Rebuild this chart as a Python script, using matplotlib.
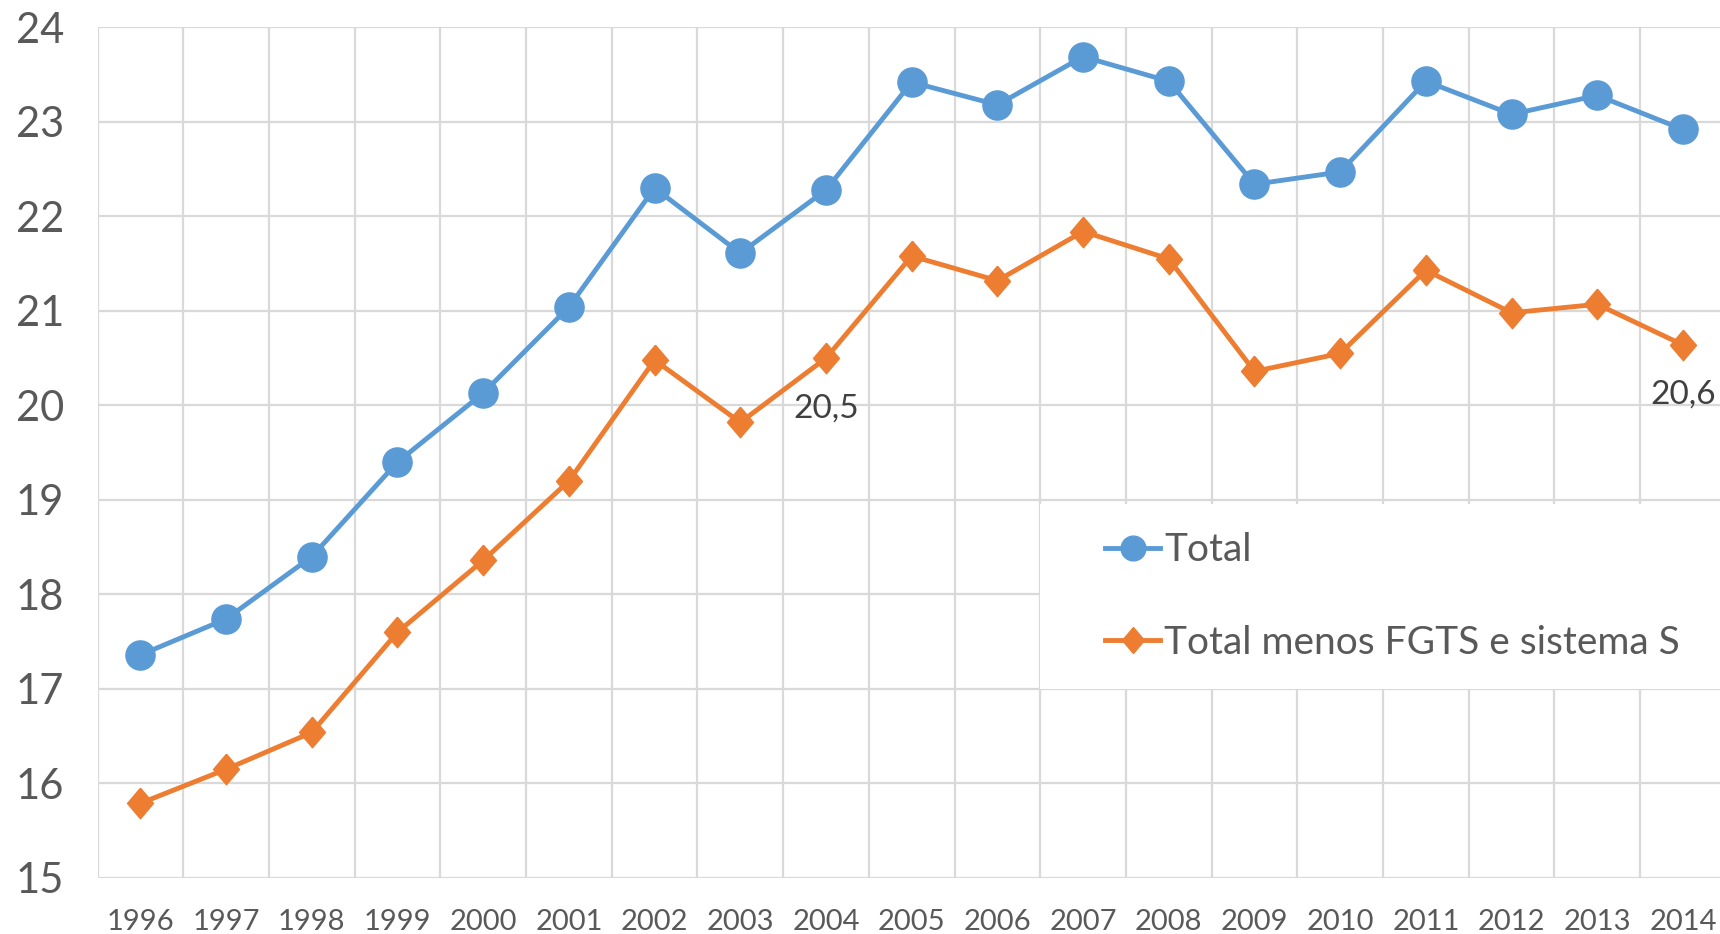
import numpy as np
import matplotlib
matplotlib.use("Agg")
import matplotlib.pyplot as plt
from matplotlib.patches import Rectangle

plt.rcParams['font.family'] = ['Lato', 'DejaVu Sans']

# Data
years = ['1996', '1997', '1998', '1999', '2000', '2001', '2002', '2003', '2004', '2005',
         '2006', '2007', '2008', '2009', '2010', '2011', '2012', '2013', '2014']
total = [17.36, 17.74, 18.40, 19.40, 20.13, 21.04, 22.30, 21.61, 22.28, 23.42,
         23.18, 23.69, 23.43, 22.34, 22.47, 23.43, 23.08, 23.28, 22.92]
total_menos = [15.79, 16.15, 16.54, 17.60, 18.36, 19.20, 20.48, 19.82, 20.50, 21.58,
               21.32, 21.84, 21.55, 20.36, 20.55, 21.43, 20.98, 21.07, 20.64]
labels = ['Total', 'Total menos FGTS e sistema S']
# annotated points: (index, text, y position of label)
notes = [(8, '20,5', 19.97), (18, '20,6', 20.11)]

blue = '#5B9BD5'
orange = '#ED7D31'
grid_c = '#D9D9D9'

fig = plt.figure(figsize=(17.2, 9.34), dpi=100)
ax = fig.add_axes([0.0567, 0.0600, 0.9467, 0.9107])

x = np.arange(len(years))
diamond = [(0, 1), (0.85, 0), (0, -1), (-0.85, 0), (0, 1)]

ax.plot(x, total, color=blue, linewidth=3.5, marker='o', markersize=21,
        label=labels[0], zorder=4)
ax.plot(x, total_menos, color=orange, linewidth=3.5, marker=diamond, markersize=22,
        label=labels[1], zorder=4)

for i, txt, ypos in notes:
    ax.text(i, ypos, txt, ha='center', va='center', fontsize=24, color='#404040', zorder=5)

# axes and grid
ax.set_xlim(-0.5, 18.5)
ax.set_ylim(15, 24)
ax.set_yticks(range(15, 25))
ax.set_xticks(x)
ax.set_xticklabels(years)
ax.set_xticks(np.arange(-0.5, 19, 1), minor=True)
ax.grid(which='major', axis='y', color=grid_c, linewidth=1.6, zorder=0)
ax.grid(which='minor', axis='x', color=grid_c, linewidth=1.6, zorder=0)
ax.set_axisbelow(True)
for s in ax.spines.values():
    s.set_visible(False)
ax.tick_params(axis='both', which='both', length=0)
ax.tick_params(axis='y', labelsize=30, labelcolor='#595959', pad=24)
ax.tick_params(axis='x', labelsize=21, labelcolor='#595959', pad=22)

# white legend area over the grid
ax.add_patch(Rectangle((0.579, 0.2222), 0.43, 0.217, transform=ax.transAxes,
                       facecolor='white', edgecolor='none', zorder=2, clip_on=False))
leg = ax.legend(loc='center left', bbox_to_anchor=(0.5975, 0.331), frameon=False,
                fontsize=28, handlelength=1.41, handletextpad=0.1, labelspacing=1.45,
                labelcolor='#595959', markerscale=0.85)
leg.set_zorder(3)

fig.savefig('out.png', dpi=100)
